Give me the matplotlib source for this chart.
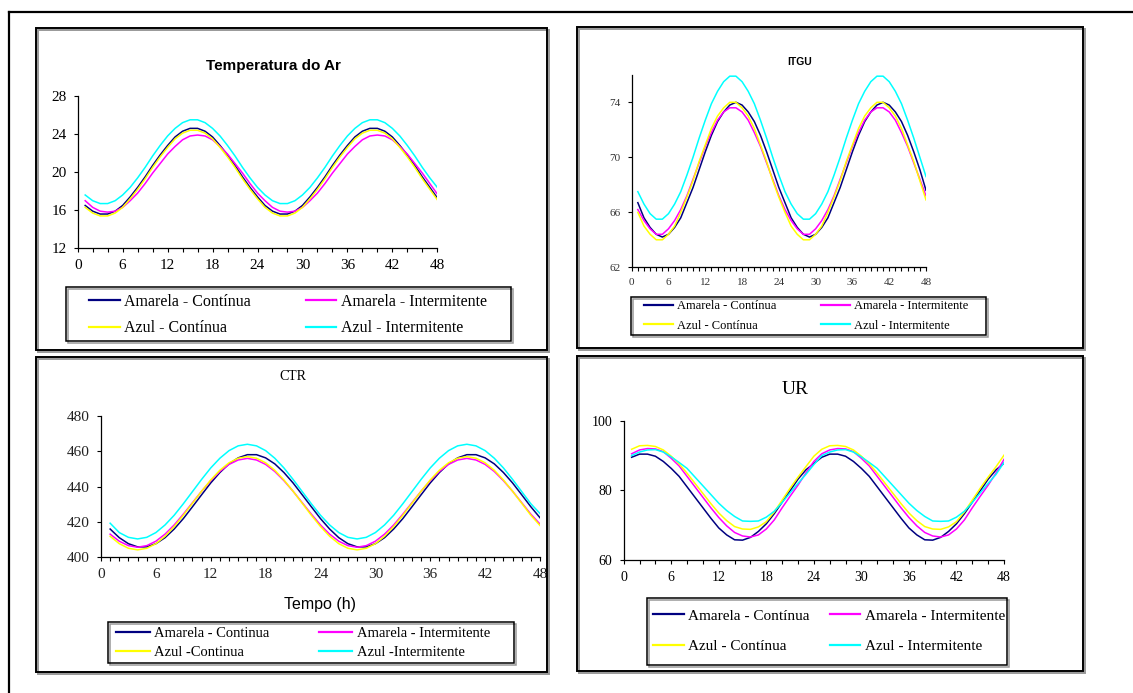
import matplotlib.pyplot as plt
from matplotlib.patches import Rectangle
from matplotlib.lines import Line2D
from matplotlib.ticker import MultipleLocator

W, H = 1133, 693
hours = list(range(1, 49))

# Temperatura do Ar
temp_am_cont = [16.5, 15.9, 15.6, 15.6, 15.9, 16.5, 17.4, 18.4, 19.5, 20.7, 21.8, 22.8, 23.7, 24.3, 24.6, 24.6, 24.3, 23.7, 22.8, 21.8, 20.7, 19.5, 18.4, 17.4,
                16.5, 15.9, 15.6, 15.6, 15.9, 16.5, 17.4, 18.4, 19.5, 20.7, 21.8, 22.8, 23.7, 24.3, 24.6, 24.6, 24.3, 23.7, 22.8, 21.8, 20.7, 19.5, 18.4, 17.3]
temp_am_int = [17.0, 16.3, 15.9, 15.8, 15.9, 16.3, 17.0, 17.8, 18.8, 19.9, 20.9, 21.9, 22.7, 23.4, 23.8, 23.9, 23.8, 23.4, 22.7, 21.9, 20.9, 19.9, 18.8, 17.8,
               17.0, 16.3, 15.9, 15.8, 15.9, 16.3, 17.0, 17.8, 18.8, 19.9, 20.9, 21.9, 22.7, 23.4, 23.8, 23.9, 23.8, 23.4, 22.7, 21.9, 20.9, 19.9, 18.8, 17.7]
temp_az_cont = [16.3, 15.7, 15.4, 15.4, 15.7, 16.3, 17.2, 18.2, 19.3, 20.5, 21.6, 22.6, 23.5, 24.1, 24.4, 24.4, 24.1, 23.5, 22.6, 21.6, 20.5, 19.3, 18.2, 17.2,
                16.3, 15.7, 15.4, 15.4, 15.7, 16.3, 17.2, 18.2, 19.3, 20.5, 21.6, 22.6, 23.5, 24.1, 24.4, 24.4, 24.1, 23.5, 22.6, 21.6, 20.5, 19.3, 18.2, 17.1]
temp_az_int = [17.6, 17.0, 16.7, 16.7, 17.0, 17.6, 18.4, 19.4, 20.5, 21.7, 22.8, 23.8, 24.6, 25.2, 25.5, 25.5, 25.2, 24.6, 23.8, 22.8, 21.7, 20.5, 19.4, 18.4,
               17.6, 17.0, 16.7, 16.7, 17.0, 17.6, 18.4, 19.4, 20.5, 21.7, 22.8, 23.8, 24.6, 25.2, 25.5, 25.5, 25.2, 24.6, 23.8, 22.8, 21.7, 20.5, 19.4, 18.4]

# ITGU
itgu_am_cont = [66.7, 65.6, 64.9, 64.4, 64.2, 64.4, 64.9, 65.6, 66.7, 67.8, 69.1, 70.4, 71.6, 72.6, 73.3, 73.8, 74.0, 73.8, 73.3, 72.6, 71.6, 70.4, 69.1, 67.8,
                66.7, 65.6, 64.9, 64.4, 64.2, 64.4, 64.9, 65.6, 66.7, 67.8, 69.1, 70.4, 71.6, 72.6, 73.3, 73.8, 74.0, 73.8, 73.3, 72.6, 71.6, 70.4, 69.1, 67.6]
itgu_am_int = [66.2, 65.4, 64.8, 64.4, 64.4, 64.8, 65.4, 66.2, 67.2, 68.4, 69.6, 70.8, 71.8, 72.7, 73.3, 73.6, 73.6, 73.3, 72.7, 71.8, 70.8, 69.6, 68.4, 67.2,
               66.2, 65.4, 64.8, 64.4, 64.4, 64.8, 65.4, 66.2, 67.2, 68.4, 69.6, 70.8, 71.8, 72.7, 73.3, 73.6, 73.6, 73.3, 72.7, 71.8, 70.8, 69.6, 68.4, 67.2]
itgu_az_cont = [66.0, 65.0, 64.4, 64.0, 64.0, 64.4, 65.0, 66.0, 67.1, 68.3, 69.7, 70.9, 72.1, 73.0, 73.6, 74.0, 74.0, 73.6, 73.0, 72.1, 70.9, 69.7, 68.3, 67.1,
                66.0, 65.0, 64.4, 64.0, 64.0, 64.4, 65.0, 66.0, 67.1, 68.3, 69.7, 70.9, 72.1, 73.0, 73.6, 74.0, 74.0, 73.6, 73.0, 72.1, 70.9, 69.7, 68.3, 66.9]
itgu_az_int = [67.5, 66.6, 65.9, 65.5, 65.5, 65.9, 66.6, 67.5, 68.7, 70.0, 71.4, 72.7, 73.9, 74.8, 75.5, 75.9, 75.9, 75.5, 74.8, 73.9, 72.7, 71.4, 70.0, 68.7,
               67.5, 66.6, 65.9, 65.5, 65.5, 65.9, 66.6, 67.5, 68.7, 70.0, 71.4, 72.7, 73.9, 74.8, 75.5, 75.9, 75.9, 75.5, 74.8, 73.9, 72.7, 71.4, 70.0, 68.6]

# CTR
ctr_am_cont = [416.0, 411.1, 407.7, 405.9, 405.9, 407.7, 411.1, 416.0, 421.9, 428.6, 435.4, 442.1, 448.0, 452.9, 456.3, 458.1, 458.1, 456.3, 452.9, 448.0, 442.1, 435.4, 428.6, 421.9,
               416.0, 411.1, 407.7, 405.9, 405.9, 407.7, 411.1, 416.0, 421.9, 428.6, 435.4, 442.1, 448.0, 452.9, 456.3, 458.1, 458.1, 456.3, 452.9, 448.0, 442.1, 435.4, 428.6, 422.4]
ctr_am_int = [413.1, 409.1, 406.6, 405.7, 406.6, 409.1, 413.1, 418.3, 424.4, 430.9, 437.4, 443.4, 448.6, 452.6, 455.1, 456.0, 455.1, 452.6, 448.6, 443.4, 437.4, 430.9, 424.4, 418.3,
              413.1, 409.1, 406.6, 405.7, 406.6, 409.1, 413.1, 418.3, 424.4, 430.9, 437.4, 443.4, 448.6, 452.6, 455.1, 456.0, 455.1, 452.6, 448.6, 443.4, 437.4, 430.9, 424.4, 418.8]
ctr_az_cont = [411.9, 407.7, 405.1, 404.2, 405.1, 407.7, 411.9, 417.4, 423.8, 430.6, 437.4, 443.8, 449.3, 453.5, 456.1, 457.0, 456.1, 453.5, 449.3, 443.8, 437.4, 430.6, 423.8, 417.4,
               411.9, 407.7, 405.1, 404.2, 405.1, 407.7, 411.9, 417.4, 423.8, 430.6, 437.4, 443.8, 449.3, 453.5, 456.1, 457.0, 456.1, 453.5, 449.3, 443.8, 437.4, 430.6, 423.8, 418.0]
ctr_az_int = [419.3, 414.0, 411.3, 410.4, 411.3, 414.0, 418.3, 423.8, 430.3, 437.2, 444.1, 450.6, 456.1, 460.4, 463.1, 464.0, 463.1, 460.4, 456.1, 450.6, 444.1, 437.2, 430.3, 423.8,
              418.3, 414.0, 411.3, 410.4, 411.3, 414.0, 418.3, 423.8, 430.3, 437.2, 444.1, 450.6, 456.1, 460.4, 463.1, 464.0, 463.1, 460.4, 456.1, 450.6, 444.1, 437.2, 430.3, 424.8]

# UR
ur_am_cont = [89.5, 90.4, 90.4, 89.8, 88.3, 86.3, 84.0, 81.0, 78.0, 75.0, 72.0, 69.2, 67.2, 65.8, 65.7, 66.5, 68.2, 70.4, 73.3, 76.6, 79.9, 83.2, 85.9, 87.7,
              89.5, 90.4, 90.4, 89.8, 88.3, 86.3, 84.0, 81.0, 78.0, 75.0, 72.0, 69.2, 67.2, 65.8, 65.7, 66.5, 68.2, 70.4, 73.3, 76.6, 79.9, 83.2, 85.9, 87.8]
ur_am_int = [90.5, 91.6, 92.0, 91.9, 91.1, 89.2, 87.0, 84.0, 81.0, 78.0, 75.0, 72.2, 69.8, 67.9, 66.9, 66.6, 67.2, 68.9, 71.5, 75.0, 78.3, 81.5, 85.0, 88.3,
             90.5, 91.6, 92.0, 91.9, 91.1, 89.2, 87.0, 84.0, 81.0, 78.0, 75.0, 72.2, 69.8, 67.9, 66.9, 66.6, 67.2, 68.9, 71.5, 75.0, 78.3, 81.5, 85.0, 88.9]
ur_az_cont = [91.8, 92.8, 92.9, 92.6, 91.6, 89.8, 87.6, 84.9, 82.0, 79.1, 76.2, 73.5, 71.3, 69.6, 68.9, 68.8, 69.5, 71.0, 73.8, 77.2, 80.6, 83.8, 86.8, 89.8,
              91.8, 92.8, 92.9, 92.6, 91.6, 89.8, 87.6, 84.9, 82.0, 79.1, 76.2, 73.5, 71.3, 69.6, 68.9, 68.8, 69.5, 71.0, 73.8, 77.2, 80.6, 83.8, 86.8, 90.1]
ur_az_int = [90.0, 91.0, 91.6, 91.7, 91.0, 89.6, 88.0, 86.3, 83.8, 81.3, 78.8, 76.3, 74.2, 72.5, 71.2, 71.1, 71.2, 72.3, 74.0, 76.5, 79.3, 82.0, 84.6, 87.4,
             90.0, 91.0, 91.6, 91.7, 91.0, 89.6, 88.0, 86.3, 83.8, 81.3, 78.8, 76.3, 74.2, 72.5, 71.2, 71.1, 71.2, 72.3, 74.0, 76.5, 79.3, 82.0, 84.6, 88.0]

colors = ['#000080', '#FF00FF', '#FFFF00', '#00FFFF']
labels_std = ['Amarela - Contínua', 'Amarela - Intermitente', 'Azul - Contínua', 'Azul - Intermitente']
labels_ctr = ['Amarela - Continua', 'Amarela - Intermitente', 'Azul -Continua', 'Azul -Intermitente']

SERIF = 'Liberation Serif'
SANS = 'Liberation Sans'

fig = plt.figure(figsize=(W / 100, H / 100), dpi=100)


def fx(x):
    return x / W


def fy(y):
    return 1 - y / H


def frame(l, t, r, b, lw=1.4):
    # light shadow, then the black box
    fig.add_artist(Rectangle((fx(l + 1.5), fy(b + 1.5)), fx(r - l), (b - t) / H,
                             transform=fig.transFigure, fill=False, ec='#999999', lw=lw))
    fig.add_artist(Rectangle((fx(l), fy(b)), fx(r - l), (b - t) / H,
                             transform=fig.transFigure, fill=False, ec='black', lw=lw))


def panel(rect, series, labels, ylim, yticks, minor, tick_size, tick_color,
          leg_center, leg_size, leg_spacing, col_spacing, handle_len):
    l, t, r, b = rect
    ax = fig.add_axes([fx(l), fy(b), fx(r - l), (b - t) / H])
    lines = []
    for vals, c, lab in zip(series, colors, labels):
        ln, = ax.plot(hours, vals, color=c, lw=1.1, label=lab)
        lines.append(ln)
    ax.set_xlim(0, 48)
    ax.set_ylim(*ylim)
    ax.xaxis.set_major_locator(MultipleLocator(6))
    ax.xaxis.set_minor_locator(MultipleLocator(minor))
    ax.set_yticks(yticks)
    for s in ['top', 'right']:
        ax.spines[s].set_visible(False)
    for s in ['left', 'bottom']:
        ax.spines[s].set_linewidth(0.9)
    ax.tick_params(which='both', direction='out', length=3, width=0.8, pad=5,
                   labelsize=tick_size, labelcolor=tick_color)
    ax.tick_params(axis='y', which='minor', length=0)
    for lab in ax.get_xticklabels() + ax.get_yticklabels():
        lab.set_fontfamily(SERIF)
    order = [lines[0], lines[2], lines[1], lines[3]]
    leg = ax.legend(order, [h.get_label() for h in order], ncol=2, loc='center',
                    bbox_to_anchor=(fx(leg_center[0]), fy(leg_center[1])),
                    bbox_transform=fig.transFigure, frameon=False,
                    prop={'family': SERIF, 'size': leg_size},
                    labelspacing=leg_spacing, columnspacing=col_spacing,
                    handlelength=handle_len, handletextpad=0.3, borderpad=0)
    for h in leg.legend_handles:
        h.set_linewidth(1.6)
    return ax


# outer frame
fig.add_artist(Line2D([fx(9), 1], [fy(12), fy(12)], transform=fig.transFigure, color='black', lw=1.6))
fig.add_artist(Line2D([fx(9), fx(9)], [fy(12), 0], transform=fig.transFigure, color='black', lw=1.6))

# panel boxes
frame(36, 28, 547, 350)
frame(577, 27, 1083, 348)
frame(36, 357, 547, 672)
frame(577, 356, 1083, 671)

# legend boxes
frame(66, 287, 511, 341, lw=1.1)
frame(631, 297, 986, 335, lw=1.1)
frame(108, 622, 514, 663, lw=1.1)
frame(647, 598, 1007, 665, lw=1.1)

# Temperatura do Ar
panel((77.7, 96, 437.3, 248.3),
      [temp_am_cont, temp_am_int, temp_az_cont, temp_az_int], labels_std,
      (12, 28), [12, 16, 20, 24, 28], 2, 11, 'black', (288, 315), 11.5, 0.68, 3.4, 1.9)
fig.text(fx(273), fy(66), 'Temperatura do Ar', ha='center', va='center',
         family=SANS, weight='bold', size=11)

# ITGU
panel((631.7, 74.8, 926, 267.3),
      [itgu_am_cont, itgu_am_int, itgu_az_cont, itgu_az_int], labels_std,
      (62, 76), [62, 66, 70, 74], 1, 8, '#333333', (806, 316), 9, 0.6, 3.6, 2.3)
fig.text(fx(800), fy(62), 'ITGU', ha='center', va='center',
         family=SANS, weight='bold', size=7.5)

# CTR
panel((101, 416, 540, 557.3),
      [ctr_am_cont, ctr_am_int, ctr_az_cont, ctr_az_int], labels_ctr,
      (400, 480), [400, 420, 440, 460, 480], 1, 11, '#222222', (303, 643), 10.5, 0.45, 3.4, 2.3)
fig.text(fx(293), fy(376), 'CTR', ha='center', va='center', family=SERIF, size=10)
fig.text(fx(320), fy(605), 'Tempo (h)', ha='center', va='center', family=SANS, size=11.5)

# UR
panel((623.7, 420.7, 1004, 560),
      [ur_am_cont, ur_am_int, ur_az_cont, ur_az_int], labels_std,
      (60, 100), [60, 80, 100], 2, 10, 'black', (829, 631), 11, 1.1, 1.3, 2.0)
fig.text(fx(795), fy(389), 'UR', ha='center', va='center', family=SERIF, size=14)

fig.savefig('out.png', dpi=100)
